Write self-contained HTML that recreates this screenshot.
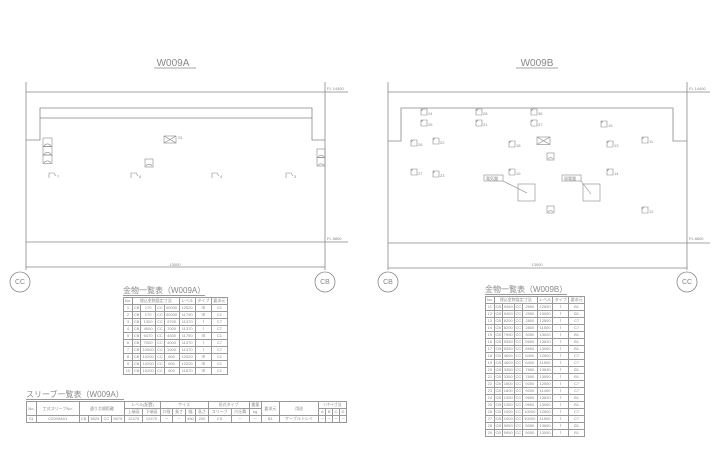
<!DOCTYPE html>
<html><head><meta charset="utf-8"><style>
body{margin:0;background:#fff;width:721px;height:475px;overflow:hidden;position:relative;font-family:"Liberation Sans","Noto Sans CJK JP",sans-serif;color:#777}
svg{position:absolute;left:0;top:0}
table{position:absolute;border-collapse:collapse;font-size:4px;line-height:4px;color:#888}
td{border:0.6px solid #999;text-align:center;padding:0;white-space:nowrap;overflow:hidden}
.tt{position:absolute;font-size:8px;color:#888;border-bottom:1px solid #999;line-height:9px;white-space:nowrap}
</style></head><body>
<svg width="721" height="475" viewBox="0 0 721 475" fill="none" stroke="#888" stroke-width="0.8">
<g font-family="Liberation Sans" fill="#888" stroke="none">
<text x="173" y="66" font-size="10" text-anchor="middle">W009A</text>
<text x="537" y="66" font-size="10" text-anchor="middle">W009B</text>
<text x="327" y="90" font-size="4">FL 14400</text>
<text x="327" y="240" font-size="4">FL 8800</text>
<text x="689" y="90" font-size="4">FL 14400</text>
<text x="689" y="240" font-size="4">FL 8800</text>
<text x="175" y="266" font-size="4" text-anchor="middle">13000</text>
<text x="537" y="266" font-size="4" text-anchor="middle">13000</text>
<text x="20" y="284" font-size="7" text-anchor="middle">CC</text>
<text x="325" y="284" font-size="7" text-anchor="middle">CB</text>
<text x="388" y="284" font-size="7" text-anchor="middle">CB</text>
<text x="687" y="284" font-size="7" text-anchor="middle">CC</text>
</g>
<line x1="154" y1="68" x2="196" y2="68"/><line x1="516" y1="68" x2="558" y2="68"/>
<line x1="26" y1="82" x2="26" y2="270"/><line x1="325" y1="82" x2="325" y2="270"/>
<line x1="26" y1="92" x2="348" y2="92"/>
<polyline points="26,140 40,140 40,108 312,108 312,140 325,140"/>
<line x1="40" y1="118" x2="312" y2="118"/>
<line x1="26" y1="242" x2="348" y2="242"/>
<line x1="26" y1="267" x2="325" y2="267"/>
<circle cx="20" cy="282" r="10"/><circle cx="325" cy="282" r="10"/>
<line x1="388" y1="82" x2="388" y2="270"/><line x1="687" y1="82" x2="687" y2="270"/>
<line x1="388" y1="92" x2="710" y2="92"/>
<polyline points="388,141 401,141 401,108 673,108 673,141 687,141"/>
<line x1="388" y1="243" x2="710" y2="243"/>
<line x1="388" y1="268" x2="687" y2="268"/>
<circle cx="388" cy="282" r="10"/><circle cx="687" cy="282" r="10"/>
<g stroke-width="0.6">
<rect x="43" y="138" width="9" height="8.5"/><rect x="43" y="146.5" width="9" height="8.5"/><rect x="43" y="155" width="9" height="8.5"/>
<path d="M44 146a4 4 0 0 1 7 0M44 154.5a4 4 0 0 1 7 0M44 163a4 4 0 0 1 7 0"/>
<rect x="164" y="136" width="12" height="7"/><path d="M164 136l12 7M176 136l-12 7"/>
<rect x="145" y="159" width="8" height="8"/><path d="M146 166a3.5 3.5 0 0 1 6 0"/>
<rect x="317" y="149" width="8" height="8.5"/><rect x="317" y="157.5" width="8" height="8.5"/>
<path d="M318 157a3.5 3.5 0 0 1 6 0M318 165.5a3.5 3.5 0 0 1 6 0"/>
<path d="M49 178v-5h5l2 3M131 178v-5h5l2 3M212 178v-5h5l2 3M286 178v-5h5l2 3"/>
</g>
<g font-family="Liberation Sans" font-size="4" fill="#888" stroke="none">
<text x="178" y="139">S1</text><text x="57" y="178">7</text><text x="139" y="178">6</text><text x="220" y="178">4</text><text x="294" y="178">3</text>
</g>
<g stroke-width="0.6">
<path d="M421 109h6v6h-6zM421 111l2-2M476 109h6v6h-6zM476 111l2-2M531 109h6v6h-6zM531 111l2-2
M421 120h6v6h-6zM421 122l2-2M476 120h6v6h-6zM476 122l2-2M531 120h6v6h-6zM531 122l2-2
M601 121h6v6h-6zM601 123l2-2M411 140h6v6h-6zM411 142l2-2M433 138h6v6h-6zM433 140l2-2
M509 141h6v6h-6zM509 143l2-2M607 141h6v6h-6zM607 143l2-2M642 137h6v6h-6zM642 139l2-2
M411 169h6v6h-6zM411 171l2-2M433 171h6v6h-6zM433 173l2-2M509 169h6v6h-6zM509 171l2-2
M607 169h6v6h-6zM607 171l2-2M642 207h6v6h-6zM642 209l2-2"/>
<rect x="537" y="137" width="13" height="7.5"/><path d="M537 137l13 7.5M550 137l-13 7.5"/>
<rect x="547" y="153" width="7" height="7"/><rect x="547" y="206" width="7" height="7"/>
<path d="M548 159a3 3 0 0 1 5 0M548 212a3 3 0 0 1 5 0"/>
<rect x="518" y="184" width="17" height="17"/><rect x="583" y="184" width="17" height="17"/>
<rect x="484" y="175" width="19" height="6"/><rect x="562" y="175" width="19" height="6"/>
<path d="M503 181l24 12M581 181l10 13"/>
</g>
<g font-family="Liberation Sans" font-size="4" fill="#888" stroke="none">
<text x="428" y="115">24</text><text x="483" y="115">28</text><text x="538" y="115">36</text>
<text x="428" y="126">25</text><text x="483" y="126">21</text><text x="538" y="126">37</text>
<text x="608" y="127">15</text><text x="418" y="146">26</text><text x="440" y="144">22</text>
<text x="516" y="147">18</text><text x="614" y="147">13</text><text x="649" y="143">11</text>
<text x="418" y="175">27</text><text x="440" y="177">23</text><text x="516" y="175">19</text>
<text x="614" y="175">14</text><text x="649" y="213">12</text>
<text x="486" y="180" font-family="Noto Sans CJK JP">電気盤</text><text x="564" y="180" font-family="Noto Sans CJK JP">弱電盤</text>
</g>
</svg>

<div class="tt" style="left:123px;top:286px">金物一覧表（W009A）</div>
<table style="left:123px;top:297px;width:105px">
<tr style="height:7px"><td>No.</td><td colspan="4">埋込金物設定寸法</td><td>レベル</td><td>タイプ</td><td>要求元</td></tr>
<tr style="height:7px"><td>1</td><td>CB</td><td>170</td><td>CC</td><td>00030</td><td>12520</td><td>Ⅲ</td><td>C1</td></tr>
<tr style="height:7px"><td>2</td><td>CB</td><td>170</td><td>CC</td><td>00030</td><td>11790</td><td>Ⅲ</td><td>C1</td></tr>
<tr style="height:7px"><td>3</td><td>CB</td><td>1300</td><td>CC</td><td>9700</td><td>11370</td><td>Ⅰ</td><td>C7</td></tr>
<tr style="height:7px"><td>4</td><td>CB</td><td>4000</td><td>CC</td><td>7000</td><td>11370</td><td>Ⅰ</td><td>C7</td></tr>
<tr style="height:7px"><td>5</td><td>CB</td><td>6470</td><td>CC</td><td>4530</td><td>11750</td><td>Ⅲ</td><td>C1</td></tr>
<tr style="height:7px"><td>6</td><td>CB</td><td>7000</td><td>CC</td><td>4000</td><td>11370</td><td>Ⅰ</td><td>C7</td></tr>
<tr style="height:7px"><td>7</td><td>CB</td><td>10000</td><td>CC</td><td>1000</td><td>11370</td><td>Ⅰ</td><td>C7</td></tr>
<tr style="height:7px"><td>8</td><td>CB</td><td>10200</td><td>CC</td><td>800</td><td>12520</td><td>Ⅲ</td><td>C1</td></tr>
<tr style="height:7px"><td>9</td><td>CB</td><td>10200</td><td>CC</td><td>800</td><td>12200</td><td>Ⅲ</td><td>C1</td></tr>
<tr style="height:7px"><td>10</td><td>CB</td><td>10200</td><td>CC</td><td>800</td><td>11870</td><td>Ⅲ</td><td>C1</td></tr>
</table>

<div class="tt" style="left:485px;top:285px">金物一覧表（W009B）</div>
<table style="left:485px;top:296px;width:100px">
<tr style="height:7px"><td>No.</td><td colspan="4">埋込金物設定寸法</td><td>レベル</td><td>タイプ</td><td>要求元</td></tr>
<tr style="height:7px"><td>11</td><td>CB</td><td>9450</td><td>CC</td><td>2550</td><td>12630</td><td>Ⅰ</td><td>B1</td></tr>
<tr style="height:7px"><td>12</td><td>CB</td><td>9450</td><td>CC</td><td>2550</td><td>10050</td><td>Ⅰ</td><td>B1</td></tr>
<tr style="height:7px"><td>13</td><td>CB</td><td>8200</td><td>CC</td><td>2800</td><td>12500</td><td>Ⅰ</td><td>C7</td></tr>
<tr style="height:7px"><td>14</td><td>CB</td><td>8200</td><td>CC</td><td>2800</td><td>11500</td><td>Ⅰ</td><td>C7</td></tr>
<tr style="height:7px"><td>15</td><td>CB</td><td>7950</td><td>CC</td><td>3050</td><td>13020</td><td>Ⅰ</td><td>B1</td></tr>
<tr style="height:7px"><td>16</td><td>CB</td><td>5350</td><td>CC</td><td>5650</td><td>13630</td><td>Ⅰ</td><td>B1</td></tr>
<tr style="height:7px"><td>17</td><td>CB</td><td>5350</td><td>CC</td><td>5650</td><td>13050</td><td>Ⅰ</td><td>B1</td></tr>
<tr style="height:7px"><td>18</td><td>CB</td><td>4600</td><td>CC</td><td>6400</td><td>12500</td><td>Ⅰ</td><td>C7</td></tr>
<tr style="height:7px"><td>19</td><td>CB</td><td>4600</td><td>CC</td><td>6400</td><td>11500</td><td>Ⅰ</td><td>C7</td></tr>
<tr style="height:7px"><td>20</td><td>CB</td><td>3350</td><td>CC</td><td>7650</td><td>13630</td><td>Ⅰ</td><td>B1</td></tr>
<tr style="height:7px"><td>21</td><td>CB</td><td>3350</td><td>CC</td><td>7650</td><td>13050</td><td>Ⅰ</td><td>B1</td></tr>
<tr style="height:7px"><td>22</td><td>CB</td><td>1800</td><td>CC</td><td>9200</td><td>12500</td><td>Ⅰ</td><td>C7</td></tr>
<tr style="height:7px"><td>23</td><td>CB</td><td>1800</td><td>CC</td><td>9200</td><td>11400</td><td>Ⅰ</td><td>C7</td></tr>
<tr style="height:7px"><td>24</td><td>CB</td><td>1350</td><td>CC</td><td>9650</td><td>13630</td><td>Ⅰ</td><td>B1</td></tr>
<tr style="height:7px"><td>25</td><td>CB</td><td>1350</td><td>CC</td><td>9650</td><td>13050</td><td>Ⅰ</td><td>B1</td></tr>
<tr style="height:7px"><td>26</td><td>CB</td><td>1000</td><td>CC</td><td>10000</td><td>12500</td><td>Ⅰ</td><td>C7</td></tr>
<tr style="height:7px"><td>27</td><td>CB</td><td>1000</td><td>CC</td><td>10000</td><td>11500</td><td>Ⅰ</td><td>C7</td></tr>
<tr style="height:7px"><td>28</td><td>CB</td><td>5950</td><td>CC</td><td>5050</td><td>13650</td><td>Ⅰ</td><td>B1</td></tr>
<tr style="height:7px"><td>29</td><td>CB</td><td>5950</td><td>CC</td><td>5050</td><td>13050</td><td>Ⅰ</td><td>B1</td></tr>
</table>

<div class="tt" style="left:26px;top:390px">スリーブ一覧表（W009A）</div>
<table style="left:26px;top:401px;width:321px">
<tr style="height:7px"><td rowspan="2">No.</td><td rowspan="2">工式スリーブNo.</td><td colspan="4" rowspan="2">通り芯間距離</td><td colspan="2">レベル(配置)</td><td colspan="4">サイズ</td><td colspan="2">形式タイプ</td><td>重量</td><td rowspan="2">要求元</td><td rowspan="2">用途</td><td colspan="4">ｲﾝｻｰﾄ寸法</td></tr>
<tr style="height:7px"><td>上端高</td><td>下端高</td><td>口径</td><td>長さ</td><td>幅</td><td>高さ</td><td>スリーブ</td><td>穴仕舞</td><td>kg</td><td>A</td><td>B</td><td>C</td><td>D</td></tr>
<tr style="height:7px"><td>S1</td><td>C2009A01</td><td>CB</td><td>5525</td><td>CC</td><td>5675</td><td>12470</td><td>12470</td><td>－</td><td>－</td><td>450</td><td>200</td><td>CS</td><td>－</td><td>－</td><td>B1</td><td>ケーブルトレイ</td><td>－</td><td>－</td><td>－</td><td>－</td></tr>
</table>
</body></html>
